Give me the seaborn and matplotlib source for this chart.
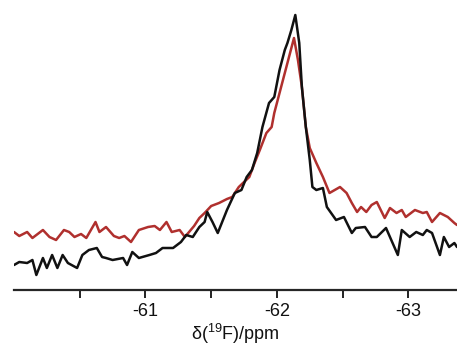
import numpy as np
import pandas as pd
import matplotlib
matplotlib.use("Agg")
import matplotlib.pyplot as plt
import seaborn as sns

# 19F NMR traces, shift in ppm and intensity in arbitrary units
red_ppm = [-60.00, -60.04, -60.10, -60.14, -60.19, -60.22, -60.27, -60.32, -60.38, -60.42,
           -60.46, -60.51, -60.55, -60.62, -60.65, -60.70, -60.76, -60.80, -60.84, -60.89,
           -60.95, -61.02, -61.07, -61.11, -61.16, -61.20, -61.26, -61.30, -61.37, -61.41,
           -61.45, -61.50, -61.56, -61.62, -61.66, -61.71, -61.79, -61.83, -61.87, -61.92,
           -61.96, -61.98, -62.02, -62.06, -62.10, -62.13, -62.16, -62.19, -62.22, -62.25,
           -62.30, -62.35, -62.40, -62.48, -62.53, -62.57, -62.61, -62.64, -62.68, -62.72,
           -62.76, -62.82, -62.86, -62.91, -62.95, -62.98, -63.05, -63.11, -63.14, -63.18,
           -63.24, -63.30, -63.35, -63.37]
red_int = [58, 54, 58, 52, 57, 60, 53, 50, 60, 58,
           53, 56, 52, 68, 58, 63, 54, 52, 54, 48,
           60, 63, 64, 60, 68, 58, 60, 53, 64, 72,
           77, 84, 87, 91, 93, 103, 113, 127, 140, 157,
           163, 177, 197, 217, 237, 252, 230, 203, 163, 142,
           127, 113, 97, 103, 97, 87, 78, 83, 78, 85,
           88, 72, 82, 77, 80, 73, 80, 77, 78, 68,
           77, 73, 67, 65]

black_ppm = [-60.00, -60.04, -60.10, -60.14, -60.17, -60.22, -60.25, -60.29, -60.33, -60.37,
             -60.41, -60.48, -60.52, -60.57, -60.63, -60.67, -60.70, -60.75, -60.83, -60.86,
             -60.90, -60.95, -61.03, -61.08, -61.13, -61.21, -61.27, -61.31, -61.36, -61.41,
             -61.45, -61.47, -61.51, -61.55, -61.62, -61.68, -61.73, -61.77, -61.81, -61.85,
             -61.87, -61.89, -61.94, -61.98, -62.02, -62.06, -62.08, -62.11, -62.14, -62.17,
             -62.19, -62.22, -62.25, -62.27, -62.30, -62.35, -62.38, -62.45, -62.51, -62.57,
             -62.60, -62.67, -62.72, -62.76, -62.83, -62.88, -62.92, -62.95, -63.01, -63.06,
             -63.11, -63.14, -63.18, -63.24, -63.27, -63.31, -63.35, -63.37]
black_int = [25, 28, 27, 30, 15, 32, 22, 35, 22, 35,
             27, 22, 35, 40, 42, 33, 32, 30, 32, 25,
             38, 32, 35, 37, 42, 42, 48, 55, 53, 63,
             68, 78, 68, 57, 80, 97, 100, 113, 120, 137,
             150, 163, 187, 193, 220, 240, 247, 260, 275, 247,
             203, 163, 130, 103, 100, 102, 83, 70, 73, 57,
             62, 63, 53, 53, 62, 47, 35, 60, 53, 58,
             55, 60, 57, 35, 53, 43, 47, 43]

major_ticks = [-61, -62, -63]
minor_ticks = [-60.5, -61.5, -62.5]

red_df = pd.DataFrame({"ppm": red_ppm, "intensity": red_int})
black_df = pd.DataFrame({"ppm": black_ppm, "intensity": black_int})

sns.set_style("ticks")
plt.rcParams["font.family"] = ["Liberation Sans", "DejaVu Sans"]
plt.rcParams["mathtext.fontset"] = "custom"
plt.rcParams["mathtext.rm"] = "Liberation Sans"
plt.rcParams["mathtext.it"] = "Liberation Sans"

fig = plt.figure(figsize=(4.57, 3.52), dpi=100)
ax = fig.add_axes([14 / 457, 62 / 352, 443 / 457, 290 / 352])

sns.lineplot(data=red_df, x="ppm", y="intensity", color="#b0302e", linewidth=1.8, ax=ax)
sns.lineplot(data=black_df, x="ppm", y="intensity", color="#111111", linewidth=1.8, ax=ax)

ax.set_xlim(-60.0, -63.37)
ax.set_ylim(0, 290)
sns.despine(ax=ax, left=True)
ax.spines["bottom"].set_linewidth(1.6)
ax.set_yticks([])
ax.set_ylabel("")

ax.set_xticks(major_ticks)
ax.set_xticklabels([str(t) for t in major_ticks])
ax.set_xticks(minor_ticks, minor=True)
ax.tick_params(axis="x", which="both", length=5.5, width=1.3, direction="out", color="#111111")
ax.tick_params(axis="x", which="major", labelsize=13, pad=4, labelcolor="#111111")
ax.set_xlabel(r"δ($^{19}$F)/ppm", fontsize=13, labelpad=1, color="#111111")

fig.savefig("out.png", dpi=100)
